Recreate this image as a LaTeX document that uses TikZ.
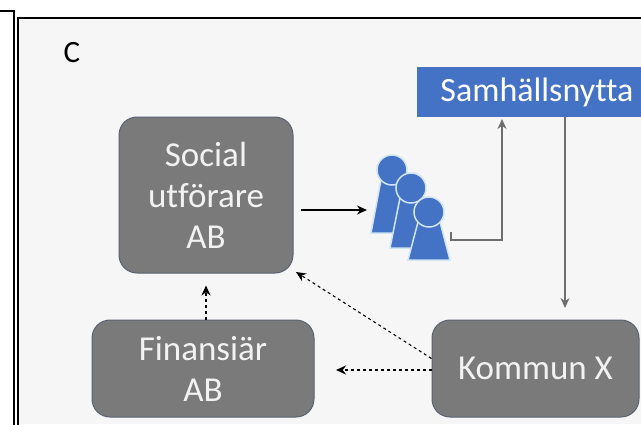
\documentclass[tikz,border=0pt]{standalone}
\usepackage{fontspec}
\setmainfont{Carlito}[Ligatures=CommonOff]
\usepackage{xcolor}
\usepackage{tikz}
\usetikzlibrary{arrows.meta,positioning,calc}
\definecolor{boxgray}{HTML}{7A7A7A}
\definecolor{boxedge}{HTML}{5A6272}
\definecolor{boxtext}{HTML}{F2F2F2}
\definecolor{nyttablue}{HTML}{4472C4}
\definecolor{figedge}{HTML}{CFE4F4}
\definecolor{linegray}{HTML}{6E6E6E}
\definecolor{paper}{HTML}{F6F6F6}
\tikzstyle{block} = [rectangle, draw=boxedge, line width=1pt, fill=boxgray, text=boxtext, align=center, rounded corners=18pt, font=\fontsize{35}{41}\selectfont]
\tikzstyle{banner} = [rectangle, fill=nyttablue, text=white, align=center, font=\fontsize{34}{40}\selectfont]
\tikzstyle{frame} = [draw=black, line width=2pt]
\tikzstyle{figure} = [fill=nyttablue, draw=figedge, line width=1.5pt]
\tikzset{edge/.style = {
    line width=1.1pt,
    -{Stealth[length=10pt,width=9pt]},
  }
}
\newcommand{\figperson}[3]{%
  \filldraw[figure] (#1-11,#2+10) -- (#1+11,#2+10) -- (#1+21,#3) -- (#1-21,#3) -- cycle;
  \filldraw[figure] (#1,#2) circle (15pt);
}

\begin{document}
\begin{tikzpicture}[x=1pt, y=-1pt]
            \useasboundingbox (0,0) rectangle (641,424);
            \fill[white] (0,0) rectangle (641,424);
            \fill[paper] (17.5,17.5) rectangle (641,424);

            % frames
            \draw[frame] (0,11) -- (13.5,11) -- (13.5,430);
            \draw[frame] (17.5,430) -- (17.5,17.5) -- (650,17.5);
            \node (lab) at (72,53) {\fontsize{31}{36}\selectfont C};

            % vertices
            \node[block, minimum width=174pt, minimum height=156pt] (soc) at (206,195) {Social\\utförare\\AB};
            \node[block, minimum width=222pt, minimum height=97pt] (fin) at (203,368.5) {Finansiär\\AB};
            \node[block, minimum width=207pt, minimum height=97pt] (kom) at (535.5,368.5) {Kommun X};
            \node[banner, minimum width=240pt, minimum height=50pt] (sam) at (537,92) {Samhällsnytta};

            % people
            \figperson{392}{170}{233}
            \figperson{411}{188}{248}
            \figperson{429}{212}{260}

            \coordinate (pin) at (367,210);
            \coordinate (pout) at (451,232);
            \coordinate (samin) at (502,119);
            \coordinate (kin) at (565,308);
            \coordinate (ktip) at (296,272);
            \coordinate (ftip) at (336,370);

            %edges
            \draw[edge, shorten <=7pt] (soc.east |- pin) to (pin);
            \draw[edge, linegray] (pout) -- ++(0,8) -| (samin);
            \draw[edge, linegray] (sam.south -| kin) to (kin);
            \draw[edge, dashed] ([yshift=10pt]kom.west) to (ktip);
            \draw[edge, dashed] (kom.west |- ftip) to (ftip);
            \draw[edge, dashed, shorten >=12pt] (fin.north -| soc.south) to (soc.south);

          \end{tikzpicture}
\end{document}
